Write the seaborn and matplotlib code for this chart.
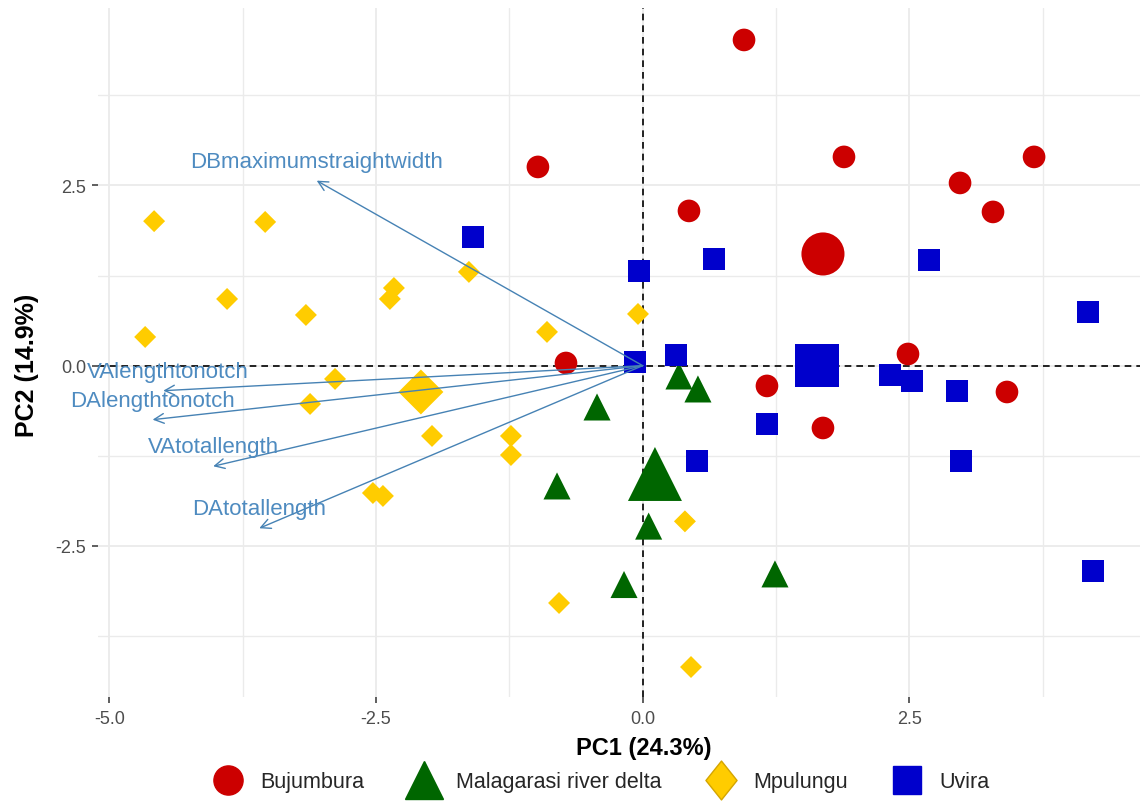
import numpy as np
import pandas as pd
import matplotlib
matplotlib.use("Agg")
import matplotlib.pyplot as plt
import seaborn as sns
from matplotlib.lines import Line2D
from matplotlib.path import Path
from matplotlib.ticker import MultipleLocator, FormatStrFormatter

# ---------------- data ----------------
groups = ["Bujumbura", "Malagarasi river delta", "Mpulungu", "Uvira"]

bujumbura_pc1 = [0.950, -0.982, 1.887, 0.434, 2.975, 3.669, 3.284, -0.719, 2.487, 1.165, 3.415, 1.690]
bujumbura_pc2 = [4.517, 2.756, 2.895, 2.146, 2.534, 2.895, 2.132, 0.037, 0.162, -0.281, -0.365, -0.864]

malagarasi_pc1 = [0.340, 0.518, -0.428, -0.803, 0.056, -0.175, 1.240]
malagarasi_pc2 = [-0.143, -0.323, -0.573, -1.668, -2.225, -3.035, -2.888]

mpulungu_pc1 = [-4.580, -3.539, -3.896, -4.664, -3.157, -2.332, -2.370, -1.629, -0.897, -0.044,
                -2.884, -3.118, -1.975, -1.235, -1.235, -2.529, -2.435, 0.396, -0.784, 0.453]
mpulungu_pc2 = [2.004, 1.993, 0.925, 0.398, 0.703, 1.077, 0.925, 1.300, 0.468, 0.717,
                -0.184, -0.531, -0.975, -0.975, -1.239, -1.766, -1.807, -2.159, -3.291, -4.179]

uvira_pc1 = [-1.591, -0.035, 0.668, 2.684, 4.175, -0.072, 0.312, 2.318, 2.524, 2.946,
             1.165, 2.984, 0.509, 4.222]
uvira_pc2 = [1.785, 1.313, 1.480, 1.466, 0.745, 0.051, 0.148, -0.129, -0.212, -0.351,
             -0.809, -1.322, -1.322, -2.848]

centroid_pc1 = [1.690, 0.115, -2.079, 1.634]
centroid_pc2 = [1.549, -1.502, -0.365, -0.004]

var_names = ["DBmaximumstraightwidth", "VAlengthtonotch", "DAlengthtonotch",
             "VAtotallength", "DAtotallength"]
var_pc1 = [-3.056, -4.494, -4.594, -4.026, -3.594]
var_pc2 = [2.566, -0.347, -0.749, -1.395, -2.255]

xlabel_text = "PC1 (24.3%)"
ylabel_text = "PC2 (14.9%)"
x_ticks = [-5.0, -2.5, 0.0, 2.5]
y_ticks = [-2.5, 0.0, 2.5]

# ---------------- styling ----------------
sns.set_theme(style="white")
plt.rcParams["font.family"] = ["Liberation Sans", "DejaVu Sans"]
plt.rcParams["axes.unicode_minus"] = False

colors = {"Bujumbura": "#CC0000", "Malagarasi river delta": "#006600",
          "Mpulungu": "#FFCC00", "Uvira": "#0000CC"}
markers = {"Bujumbura": "o", "Malagarasi river delta": "^", "Mpulungu": "D", "Uvira": "s"}
point_sizes = {"Bujumbura": 266, "Malagarasi river delta": 380, "Mpulungu": 125, "Uvira": 266}
centroid_sizes = {"Bujumbura": 961, "Malagarasi river delta": 1510, "Mpulungu": 524, "Uvira": 961}

rows = []
for g, xs, ys in zip(groups,
                     [bujumbura_pc1, malagarasi_pc1, mpulungu_pc1, uvira_pc1],
                     [bujumbura_pc2, malagarasi_pc2, mpulungu_pc2, uvira_pc2]):
    for a, b in zip(xs, ys):
        rows.append({"PC1": a, "PC2": b, "group": g})
df = pd.DataFrame(rows)
cent = pd.DataFrame({"PC1": centroid_pc1, "PC2": centroid_pc2, "group": groups})

W, H = 1140, 803
fig = plt.figure(figsize=(W / 100, H / 100), dpi=100)
fig.patch.set_facecolor("white")
ax = fig.add_axes([98 / W, 105 / H, 1042 / W, 689 / H])
ax.set_facecolor("white")

ax.set_xlim(-5.106, 4.662)
ax.set_ylim(-4.595, 4.96)

ax.xaxis.set_major_locator(matplotlib.ticker.FixedLocator(x_ticks))
ax.yaxis.set_major_locator(matplotlib.ticker.FixedLocator(y_ticks))
ax.xaxis.set_minor_locator(MultipleLocator(1.25))
ax.yaxis.set_minor_locator(MultipleLocator(1.25))
ax.xaxis.set_major_formatter(FormatStrFormatter("%.1f"))
ax.yaxis.set_major_formatter(FormatStrFormatter("%.1f"))
ax.grid(which="major", color="#EBEBEB", lw=1.3, zorder=0)
ax.grid(which="minor", color="#EBEBEB", lw=1.0, zorder=0)
ax.set_axisbelow(True)
for s in ax.spines.values():
    s.set_visible(False)
ax.tick_params(which="major", length=4.3, width=1.1, color="#333333",
               labelsize=13, labelcolor="#4D4D4D", bottom=True, left=True)
ax.tick_params(axis="x", pad=5)
ax.tick_params(axis="y", pad=4)
ax.tick_params(which="minor", length=0)

ax.axhline(0, color="black", ls=(0, (4, 3)), lw=1.2, zorder=1)
ax.axvline(0, color="black", ls=(0, (4, 3)), lw=1.2, zorder=1)

sns.scatterplot(data=df, x="PC1", y="PC2", hue="group", style="group", size="group",
                palette=colors, markers=markers, sizes=point_sizes,
                linewidth=0, legend=False, ax=ax, zorder=3)
sns.scatterplot(data=cent, x="PC1", y="PC2", hue="group", style="group", size="group",
                palette=colors, markers=markers, sizes=centroid_sizes,
                linewidth=0, legend=False, ax=ax, zorder=3)

arrow_col = "#4682B4"
label_dx = {"VAlengthtonotch": 3.5}
for name, vx, vy in zip(var_names, var_pc1, var_pc2):
    ax.annotate("", xy=(vx, vy), xytext=(0, 0),
                arrowprops=dict(arrowstyle="->,head_length=0.5,head_width=0.25",
                                color=arrow_col, lw=1.0, shrinkA=0, shrinkB=0,
                                mutation_scale=14),
                zorder=4)
    ax.annotate(name, xy=(vx, vy), xytext=(label_dx.get(name, 0), 14),
                textcoords="offset points",
                ha="center", va="center", color="#4E8BC0", fontsize=16, zorder=5,
                annotation_clip=False)

ax.set_xlabel(xlabel_text, fontsize=17, fontweight="bold", color="black")
ax.set_ylabel(ylabel_text, fontsize=18, fontweight="bold", color="black")
ax.xaxis.set_label_coords(0.524, -0.074)
ax.xaxis.label.set_va("center")
ax.yaxis.set_label_coords(-0.0677, 0.483)
ax.yaxis.label.set_va("center")

# legend
tall_diamond = Path([(0, 1), (0.8, 0), (0, -1), (-0.8, 0), (0, 1)],
                    [Path.MOVETO, Path.LINETO, Path.LINETO, Path.LINETO, Path.CLOSEPOLY])
leg_markers = {"Bujumbura": ("o", 21), "Malagarasi river delta": ("^", 27),
               "Mpulungu": (tall_diamond, 28), "Uvira": ("s", 20.5)}
handles = []
for g in groups:
    m, ms = leg_markers[g]
    ec = "#D4A500" if g == "Mpulungu" else colors[g]
    handles.append(Line2D([], [], ls="none", marker=m, markersize=ms,
                          markerfacecolor=colors[g], markeredgecolor=ec,
                          markeredgewidth=1.0))
fig.legend(handles, groups, loc="center", bbox_to_anchor=(0.527, 1 - 783 / H),
           ncol=4, frameon=False, fontsize=15.5, handlelength=1.5,
           handletextpad=0.75, columnspacing=2.0)

fig.savefig("out.png", dpi=100, facecolor="white")
